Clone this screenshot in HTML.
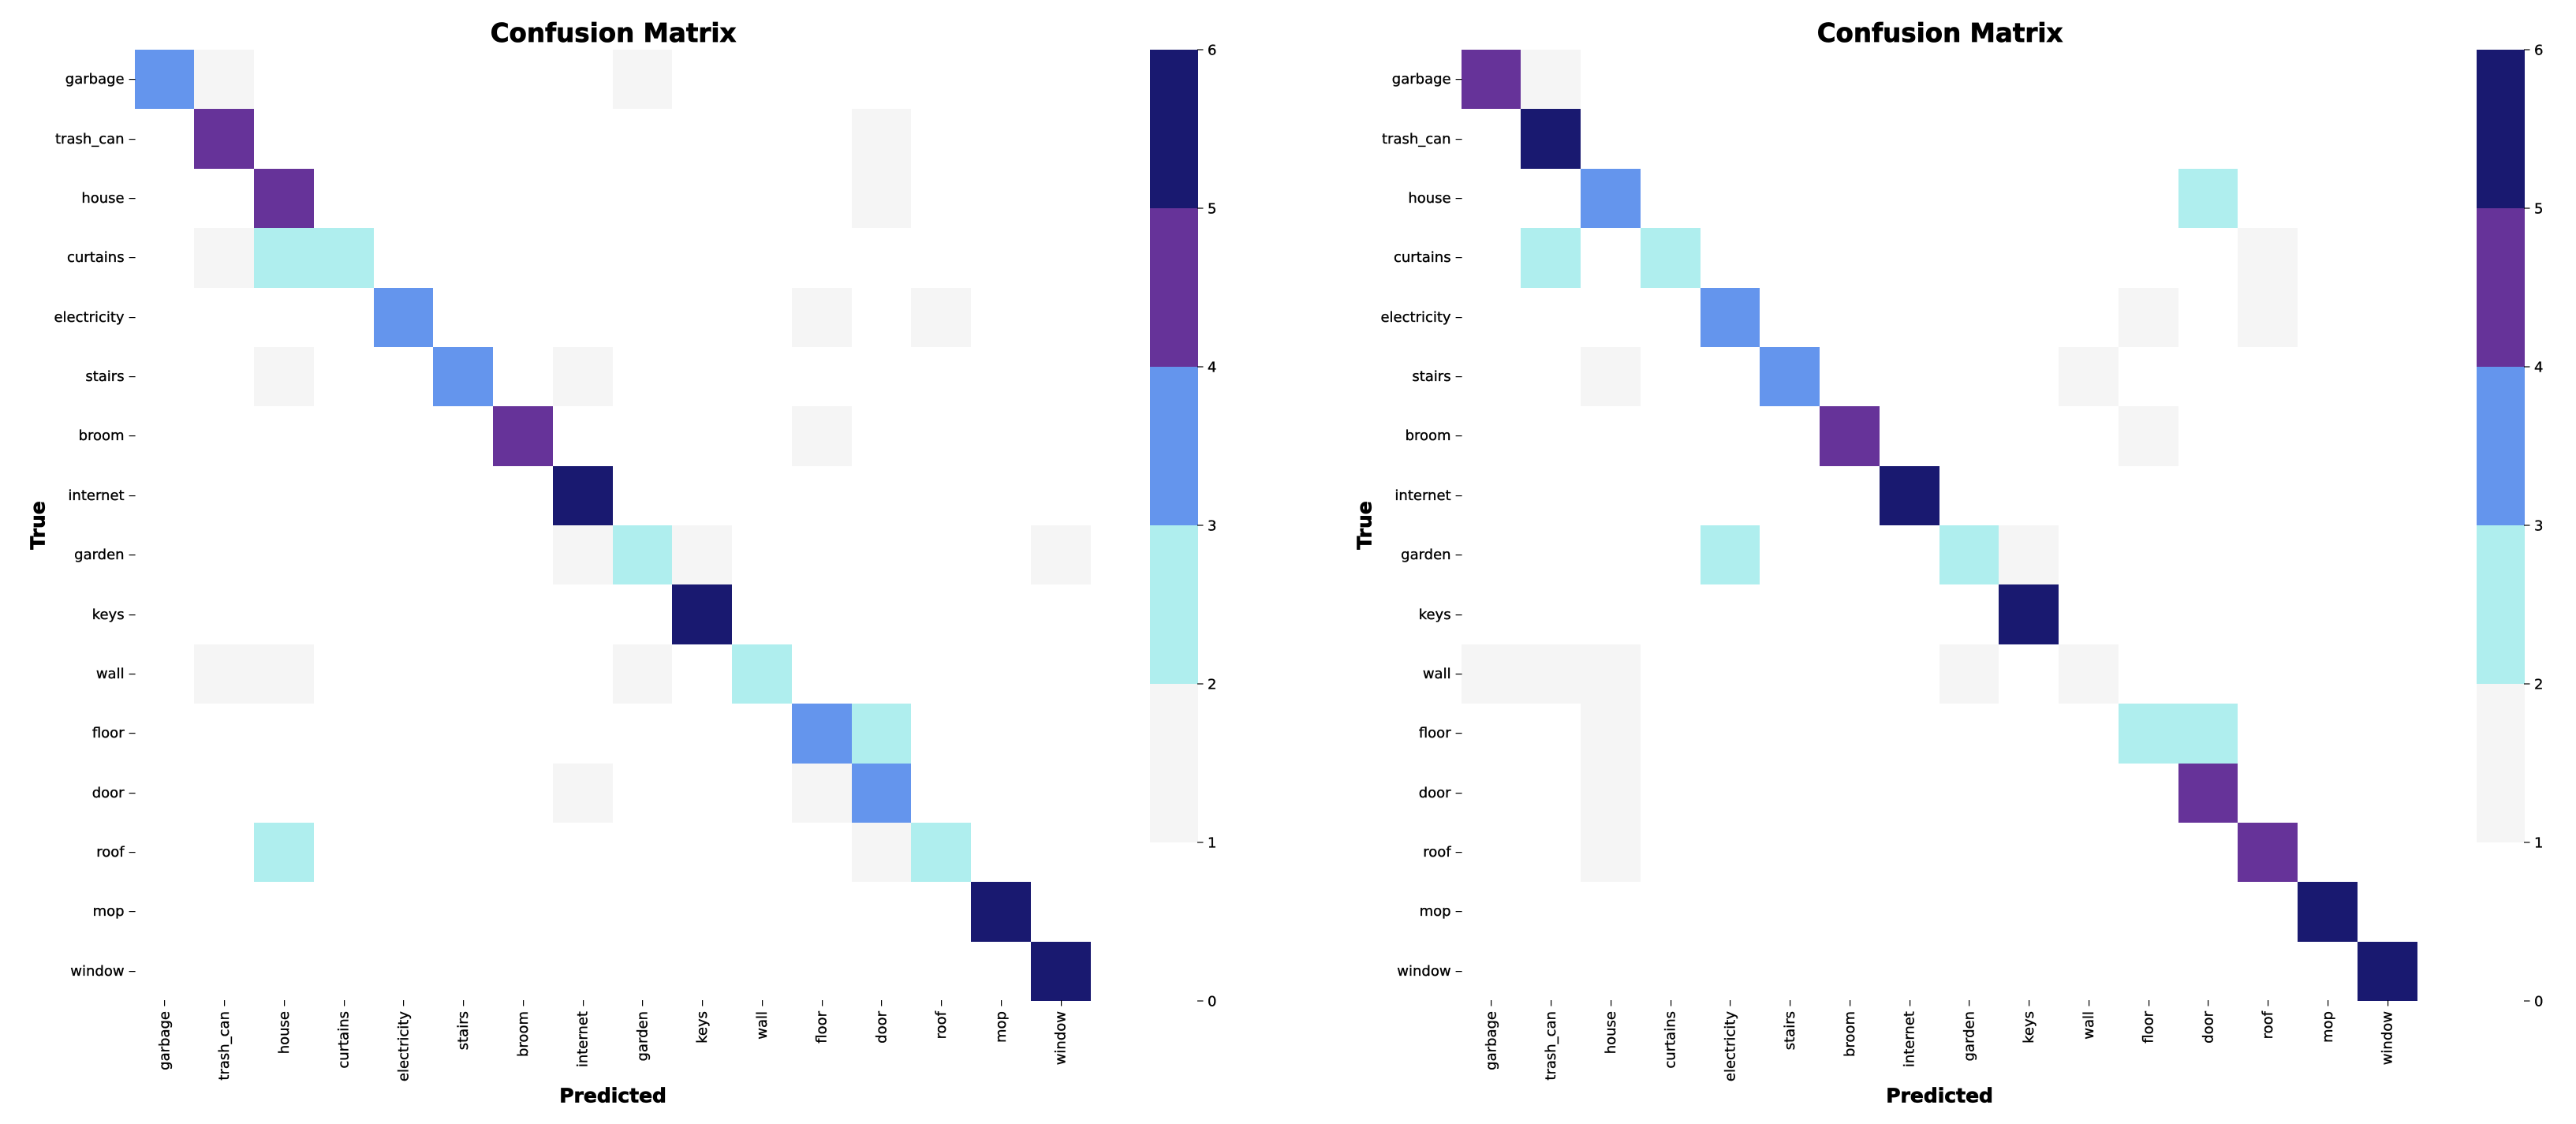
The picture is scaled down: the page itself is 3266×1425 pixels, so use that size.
<!DOCTYPE html>
<html lang="en">
<head>
<meta charset="utf-8">
<title>Confusion Matrices</title>
<style>
html,body{margin:0;padding:0;background:#fff;width:3266px;height:1425px;overflow:hidden}
svg{display:block}
text{font-family:"DejaVu Sans","Liberation Sans",sans-serif;fill:#000;stroke:#000;stroke-width:.35px}
text.heavy{stroke-width:.7px}
</style>
</head>
<body>
<svg id="chart" xmlns="http://www.w3.org/2000/svg" width="3266" height="1425" viewBox="0 0 3266 1425"></svg>
<script>
const categories = ["garbage","trash_can","house","curtains","electricity","stairs","broom","internet","garden","keys","wall","floor","door","roof","mop","window"];
const leftMatrix = [
[3,1,0,0,0,0,0,0,1,0,0,0,0,0,0,0],
[0,4,0,0,0,0,0,0,0,0,0,0,1,0,0,0],
[0,0,4,0,0,0,0,0,0,0,0,0,1,0,0,0],
[0,1,2,2,0,0,0,0,0,0,0,0,0,0,0,0],
[0,0,0,0,3,0,0,0,0,0,0,1,0,1,0,0],
[0,0,1,0,0,3,0,1,0,0,0,0,0,0,0,0],
[0,0,0,0,0,0,4,0,0,0,0,1,0,0,0,0],
[0,0,0,0,0,0,0,5,0,0,0,0,0,0,0,0],
[0,0,0,0,0,0,0,1,2,1,0,0,0,0,0,1],
[0,0,0,0,0,0,0,0,0,5,0,0,0,0,0,0],
[0,1,1,0,0,0,0,0,1,0,2,0,0,0,0,0],
[0,0,0,0,0,0,0,0,0,0,0,3,2,0,0,0],
[0,0,0,0,0,0,0,1,0,0,0,1,3,0,0,0],
[0,0,2,0,0,0,0,0,0,0,0,0,1,2,0,0],
[0,0,0,0,0,0,0,0,0,0,0,0,0,0,5,0],
[0,0,0,0,0,0,0,0,0,0,0,0,0,0,0,5]
];
const rightMatrix = [
[4,1,0,0,0,0,0,0,0,0,0,0,0,0,0,0],
[0,5,0,0,0,0,0,0,0,0,0,0,0,0,0,0],
[0,0,3,0,0,0,0,0,0,0,0,0,2,0,0,0],
[0,2,0,2,0,0,0,0,0,0,0,0,0,1,0,0],
[0,0,0,0,3,0,0,0,0,0,0,1,0,1,0,0],
[0,0,1,0,0,3,0,0,0,0,1,0,0,0,0,0],
[0,0,0,0,0,0,4,0,0,0,0,1,0,0,0,0],
[0,0,0,0,0,0,0,5,0,0,0,0,0,0,0,0],
[0,0,0,0,2,0,0,0,2,1,0,0,0,0,0,0],
[0,0,0,0,0,0,0,0,0,5,0,0,0,0,0,0],
[1,1,1,0,0,0,0,0,1,0,1,0,0,0,0,0],
[0,0,1,0,0,0,0,0,0,0,0,2,2,0,0,0],
[0,0,1,0,0,0,0,0,0,0,0,0,4,0,0,0],
[0,0,1,0,0,0,0,0,0,0,0,0,0,4,0,0],
[0,0,0,0,0,0,0,0,0,0,0,0,0,0,5,0],
[0,0,0,0,0,0,0,0,0,0,0,0,0,0,0,5]
];
const colorbarTicks = [0,1,2,3,4,5,6];
const titleText = "Confusion Matrix";
const xAxisTitle = "Predicted";
const yAxisTitle = "True";

const NS = "http://www.w3.org/2000/svg";
const svg = document.getElementById("chart");
const plotTop = 63, plotHeight = 1206, plotWidth = 1212, panelOffset = 1682;

function fillForValue(v){
  if (v >= 5) return "#191970";
  if (v >= 4) return "#663399";
  if (v >= 3) return "#6495ED";
  if (v >= 2) return "#AFEEEE";
  if (v >= 1) return "#F5F5F5";
  return "#FFFFFF";
}
function make(tag, parent, attrs){
  const el = document.createElementNS(NS, tag);
  for (const k in attrs) el.setAttribute(k, attrs[k]);
  parent.appendChild(el);
  return el;
}
function drawPanel(matrix, originX, panelName){
  const n = categories.length;
  const xScale = i => originX + i * plotWidth / n;
  const yScale = i => plotTop + i * plotHeight / n;
  const cbLeft = originX + 1287.4, cbWidth = 61;
  const vMax = colorbarTicks[colorbarTicks.length - 1];
  const cbScale = v => plotTop + (vMax - v) / vMax * plotHeight;

  const g = make("g", svg, {});
  
  

  // heatmap cells
  matrix.forEach(function(row, r){
    row.forEach(function(v, c){
      const x0 = Math.round(xScale(c)), x1 = Math.round(xScale(c + 1));
      const y0 = Math.round(yScale(r)), y1 = Math.round(yScale(r + 1));
      const cell = make("rect", g, {x:x0, y:y0, width:x1 - x0, height:y1 - y0, fill:fillForValue(v), "shape-rendering":"crispEdges"});
      
      
    });
  });

  // y axis
  categories.forEach(function(label, i){
    const yc = Math.floor(yScale(i + 0.5));
    const tick = make("rect", g, {x:originX - 7, y:yc, width:8, height:1.2, fill:"#000"});
    
    
    const t = make("text", g, {x:originX - 13, y:yc + 6, "text-anchor":"end", "font-size":"18"});
    t.textContent = label;
    
    
  });

  // x axis
  categories.forEach(function(label, i){
    const xc = xScale(i + 0.5);
    const tick = make("rect", g, {x:Math.round(xc), y:plotTop + plotHeight - 1, width:1.2, height:7.5, fill:"#000"});
    
    
    const yy = plotTop + plotHeight + 13;
    const t = make("text", g, {x:0, y:0, transform:"translate(" + (xc + 6) + " " + yy + ") rotate(-90)", "text-anchor":"end", "font-size":"18"});
    t.textContent = label;
    
    
  });

  // colorbar
  for (let i = 0; i < colorbarTicks.length - 1; i++){
    const lo = colorbarTicks[i], hi = colorbarTicks[i + 1];
    const y0 = Math.round(cbScale(hi)), y1 = Math.round(cbScale(lo));
    const seg = make("rect", g, {x:Math.round(cbLeft), y:y0, width:cbWidth, height:y1 - y0, fill:fillForValue(lo), "shape-rendering":"crispEdges"});
    
    
  }
  colorbarTicks.forEach(function(v){
    const y = cbScale(v);
    const right = Math.round(cbLeft) + cbWidth;
    const tick = make("rect", g, {x:right - 1, y:y - 0.6, width:7.5, height:1.2, fill:"#000"});
    
    
    const t = make("text", g, {x:right + 12, y:y + 6.5, "font-size":"18"});
    t.textContent = String(v);
    
    
  });

  // titles
  const title = make("text", g, {x:originX + 607, y:53, "text-anchor":"middle", "font-size":"32.5", "font-weight":"bold", "class":"heavy"});
  title.textContent = titleText;
  
  

  const xt = make("text", g, {x:originX + 606.5, y:1397.5, "text-anchor":"middle", "font-size":"25", "font-weight":"bold", "class":"heavy"});
  xt.textContent = xAxisTitle;
  
  

  const yt = make("text", g, {x:0, y:0, transform:"translate(" + (originX - 114) + " 666) rotate(-90)", "text-anchor":"middle", "font-size":"25", "font-weight":"bold", "class":"heavy"});
  yt.textContent = yAxisTitle;
  
  
}
drawPanel(leftMatrix, 170.6, "left-confusion-matrix");
drawPanel(rightMatrix, 170.6 + panelOffset, "right-confusion-matrix");
</script>
</body>
</html>
